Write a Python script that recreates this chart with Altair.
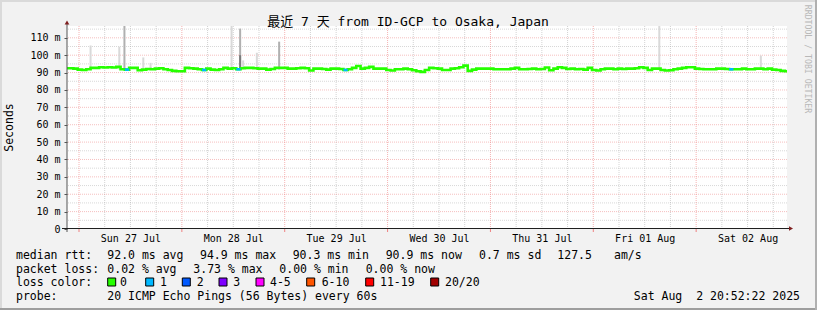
import json
import altair as alt
import pandas as pd

# ------------------------------------------------------------------ data
TITLE = "最近 7 天 from ID-GCP to Osaka, Japan"
Y_TITLE = "Seconds"
WATERMARK = "RRDTOOL / TOBI OETIKER"

DAY_LABELS = ["Sun 27 Jul", "Mon 28 Jul", "Tue 29 Jul", "Wed 30 Jul",
              "Thu 31 Jul", "Fri 01 Aug", "Sat 02 Aug"]
DAY_NOON_H = [12, 36, 60, 84, 108, 132, 156]      # hours since Sun 27 Jul 00:00
FIRST_SAMPLE_H = -2.8                              # first hourly sample
Y_TICKS_MS = [0, 10, 20, 30, 40, 50, 60, 70, 80, 90, 100, 110]

# hourly median RTT (ms)
MEDIAN_MS = [
    92.5, 92.5, 92.3, 91.7, 91.5, 91.9, 92.7, 92.7, 93.1, 92.9,
    93.1, 92.9, 93.3, 91.9, 91.7, 92.7, 92.7, 91.3, 91.7, 92.1,
    91.9, 92.3, 92.5, 91.9, 91.5, 91.0, 90.8, 90.8, 92.7, 92.5,
    92.3, 91.9, 91.5, 92.3, 91.7, 91.5, 91.9, 92.7, 92.3, 92.5,
    91.9, 92.5,
    92.7, 92.7, 92.5, 92.3, 92.3, 91.7, 92.1, 92.7, 92.7, 92.7,
    92.3, 92.3, 92.5, 92.7, 92.5, 91.2, 92.3, 92.3, 92.1, 91.7,
    92.3, 92.3, 92.1, 91.5, 91.9, 92.7, 93.8, 92.3, 92.7, 93.3,
    92.3, 92.3, 92.3, 91.5, 91.2, 91.9, 91.9, 92.3, 91.9, 91.3,
    90.8, 90.4,
    91.5, 92.7, 92.5, 92.3, 91.5, 91.5, 92.3, 92.5, 93.1, 94.0,
    91.0, 91.7, 92.3, 92.3, 92.3, 92.3, 91.9, 91.9, 91.9, 91.9,
    92.3, 92.7, 91.9, 91.9, 92.1, 92.3, 91.9, 92.1, 92.9, 91.3,
    92.3, 93.1, 92.7, 92.1, 92.3, 91.9, 92.1, 91.7, 92.7, 91.5,
    91.2, 91.9,
    92.3, 92.3, 91.9, 92.3, 92.1, 92.3, 92.3, 92.5, 93.1, 92.7,
    91.5, 92.3, 92.3, 91.5, 91.2, 91.3, 91.9, 92.3, 92.7, 93.1,
    93.1, 92.3, 92.1, 91.9, 91.9, 91.9, 92.3, 92.3, 92.1, 91.9,
    91.9, 91.9, 92.3, 91.9, 91.9, 92.3, 92.3, 91.9, 92.3, 91.7,
    91.5, 91.0, 90.8,
]
LOSS_SAMPLE_INDEX = [14, 32, 40, 65, 155]           # samples with 1 lost ping

# smoke spikes (hours since Sun 27 Jul 00:00, low/high ms, shade)
SMOKE_H = [2.7, 9.4, 10.6, 15.0, 16.7, 35.6, 37.6, 38.3, 41.5, 46.7, 135.4, 159.1]
SMOKE_LOW_MS = [91.8, 91.8, 91.8, 91.8, 91.8, 91.8, 91.8, 91.8, 91.8, 91.8, 91.8, 91.8]
SMOKE_HIGH_MS = [105.6, 104.9, 118.0, 98.7, 95.6, 118.0, 115.3, 97.0, 101.4, 107.8, 118.0, 99.8]
SMOKE_LEVEL = ["light", "light", "mid", "light", "light", "light", "mid",
               "light", "light", "mid", "light", "light"]
SMOKE_CORE_H = [37.6]
SMOKE_CORE_LOW_MS = [91.8]
SMOKE_CORE_HIGH_MS = [100.0]

STATS_RTT = ["median rtt:", "92.0 ms avg", "94.9 ms max", "90.3 ms min",
             "90.9 ms now", "0.7 ms sd", "127.5", "am/s"]
STATS_LOSS = ["packet loss:", "0.02 % avg", "3.73 % max", "0.00 % min", "0.00 % now"]
LOSS_HEAD = "loss color:"
LOSS_LABELS = ["0", "1", "2", "3", "4-5", "6-10", "11-19", "20/20"]
PROBE = ["probe:", "20 ICMP Echo Pings (56 Bytes) every 60s"]
STAMP = "Sat Aug  2 20:52:22 2025"

# ------------------------------------------------------------------ style / layout
MONO = "DejaVu Sans Mono"
TITLE_FONT = "DejaVu Sans Mono, Noto Sans CJK SC"
LOSS_COLORS = ["#26ff00", "#00b8ff", "#0059ff", "#7e00ff",
               "#ff00ff", "#ff5500", "#ff0000", "#a10000"]
SMOKE_DOMAIN = ["light", "mid"]
SMOKE_RANGE = ["#d9d9d9", "#b0b0b0"]
MGRID = "#ee8080"
GRID = "#a8a8a8"
ARROW = "#7f1f1f"
AXIS = "#1f1f1f"

W, H = 720, 203
LEFT, TOP = 67, 26
XMIN, XMAX = -2.8, 165.2
YMAX = 116.8

RTT_X = [16, 107.3, 200, 292.7, 385.7, 479, 557.3, 614]
LOSS_X = [16, 107.3, 193.3, 279.3, 365.7]
BOX_X = [107.7, 145.7, 182.3, 219, 256, 306.7, 365.7, 430.7]
BOX_LABEL_X = [120, 160, 196.7, 233.3, 270, 321.7, 380, 445]
ROW_BASE = [258.5, 272.5, 286, 300]

NB = "\u00a0"
xs = alt.Scale(domain=[XMIN, XMAX], nice=False, zero=False)
ys = alt.Scale(domain=[0, YMAX], nice=False, zero=False)
labels_js = json.dumps(DAY_LABELS)
values_js = json.dumps(DAY_NOON_H)
X_AXIS = alt.Axis(
    values=DAY_NOON_H, labelExpr=f"{labels_js}[indexof({values_js}, datum.value)]",
    title=None, grid=False, ticks=False, domain=False, labelFont=MONO,
    labelFontSize=10, labelColor="#000000", labelBaseline="alphabetic",
    labelPadding=12, labelFlush=False, labelOverlap=False)
Y_AXIS = alt.Axis(
    values=Y_TICKS_MS,
    labelExpr="datum.value == 0 ? '0" + NB + NB + "' : datum.value + ' m'",
    title=None, grid=False, domain=False, tickSize=3, tickColor="#555555",
    labelPadding=4, labelFont=MONO, labelFontSize=10, labelColor="#000000",
    labelFlush=False, labelOverlap=False)


def X(field):
    return alt.X(field, scale=xs, axis=X_AXIS)


def Y(field):
    return alt.Y(field, scale=ys, axis=Y_AXIS)


def txt(s):
    return s.replace("  ", " " + NB)


def label(text, px, py, size=11.5, align="left", baseline="alphabetic",
          angle=0, color="#000000", font=MONO):
    return alt.Chart(pd.DataFrame({"t": [txt(text)]})).mark_text(
        align=align, baseline=baseline, angle=angle, fontSize=size,
        font=font, color=color
    ).encode(text="t:N", x=alt.value(px - LEFT), y=alt.value(py - TOP))


def rect(x0, y0, x1, y1, fill, stroke=None):
    kw = {"fill": fill}
    if stroke:
        kw.update(stroke=stroke, strokeWidth=1)
    else:
        kw.update(strokeWidth=0)
    return alt.Chart(pd.DataFrame({"k": [0]})).mark_rect(**kw).encode(
        x=alt.value(x0 - LEFT), x2=alt.value(x1 - LEFT),
        y=alt.value(y0 - TOP), y2=alt.value(y1 - TOP))


# ------------------------------------------------------------------ grid
v_major = [0, 24, 48, 72, 96, 120, 144]
v_minor = [h for h in range(6, 166, 6) if h % 24 != 0]
h_major = [10, 20, 30, 40, 50, 60, 70, 80, 90, 100, 110]
h_minor = [5, 15, 25, 35, 45, 55, 65, 75, 85, 95, 105, 115]

vminor = alt.Chart(pd.DataFrame({"h": v_minor})).mark_rule(
    color=GRID, strokeDash=[1, 1], strokeWidth=1, opacity=0.5
).encode(x=X("h:Q"))
hminor = alt.Chart(pd.DataFrame({"v": h_minor})).mark_rule(
    color=GRID, strokeDash=[1, 1], strokeWidth=1, opacity=0.45
).encode(y=Y("v:Q"))
vmajor = alt.Chart(pd.DataFrame({"h": v_major})).mark_rule(
    color=MGRID, strokeDash=[1, 1], strokeWidth=1, opacity=0.6
).encode(x=X("h:Q"))
hmajor = alt.Chart(pd.DataFrame({"v": h_major})).mark_rule(
    color=MGRID, strokeDash=[1, 1], strokeWidth=1, opacity=0.5
).encode(y=Y("v:Q"))
vticks = alt.Chart(pd.DataFrame({"h": v_major})).mark_rule(
    color=MGRID, strokeWidth=1
).encode(x=X("h:Q"), y=alt.value(H), y2=alt.value(H + 3))

# ------------------------------------------------------------------ smoke
smoke_df = pd.DataFrame({"h": SMOKE_H, "lo": SMOKE_LOW_MS,
                         "hi": SMOKE_HIGH_MS, "lvl": SMOKE_LEVEL})
smoke = alt.Chart(smoke_df).mark_rule(strokeWidth=2, clip=True).encode(
    x=X("h:Q"), y=Y("lo:Q"), y2="hi:Q",
    color=alt.Color("lvl:N", scale=alt.Scale(domain=SMOKE_DOMAIN, range=SMOKE_RANGE),
                    legend=None))
core_df = pd.DataFrame({"h": SMOKE_CORE_H, "lo": SMOKE_CORE_LOW_MS, "hi": SMOKE_CORE_HIGH_MS})
core = alt.Chart(core_df).mark_rule(strokeWidth=2, color="#7a7a7a", clip=True).encode(
    x=X("h:Q"), y=Y("lo:Q"), y2="hi:Q")

# ------------------------------------------------------------------ median line
med_df = pd.DataFrame({"h": [FIRST_SAMPLE_H + i for i in range(len(MEDIAN_MS))],
                       "ms": MEDIAN_MS})
line = alt.Chart(med_df).mark_line(
    color=LOSS_COLORS[0], strokeWidth=2.6, interpolate="step", clip=True
).encode(x=X("h:Q"), y=Y("ms:Q"))

loss_df = pd.DataFrame({"h0": [FIRST_SAMPLE_H + i - 0.5 for i in LOSS_SAMPLE_INDEX],
                        "h1": [FIRST_SAMPLE_H + i + 0.5 for i in LOSS_SAMPLE_INDEX],
                        "ms": [MEDIAN_MS[i] for i in LOSS_SAMPLE_INDEX]})
loss = alt.Chart(loss_df).mark_rule(color=LOSS_COLORS[1], strokeWidth=2.6).encode(
    x=X("h0:Q"), x2="h1:Q", y=Y("ms:Q"))

# ------------------------------------------------------------------ axes lines & arrows
yaxis = alt.Chart(pd.DataFrame({"k": [0]})).mark_rule(color="#555555", strokeWidth=1).encode(
    x=alt.value(0), y=alt.value(-3), y2=alt.value(H + 3))
xaxis = alt.Chart(pd.DataFrame({"k": [0]})).mark_rule(color=AXIS, strokeWidth=1).encode(
    x=alt.value(-5), x2=alt.value(W + 2), y=alt.value(H - 0.5))
up = alt.Chart(pd.DataFrame({"k": [0]})).mark_point(
    shape="triangle-up", filled=True, size=22, color=ARROW, opacity=1).encode(
    x=alt.value(0), y=alt.value(-3.5))
right = alt.Chart(pd.DataFrame({"k": [0]})).mark_point(
    shape="triangle-right", filled=True, size=22, color=ARROW, opacity=1).encode(
    x=alt.value(W + 4), y=alt.value(H - 0.5))

# ------------------------------------------------------------------ texts
texts = [
    label(TITLE, 408, 26, size=13, align="center", font=TITLE_FONT),
    label(Y_TITLE, 10, 127.5, size=11.5, align="center", baseline="middle", angle=270),
    label(WATERMARK, 806.5, 59, size=8.2, align="center", baseline="middle",
          angle=90, color="#b8b8b8"),
]
for s, px in zip(STATS_RTT, RTT_X):
    texts.append(label(s, px, ROW_BASE[0]))
for s, px in zip(STATS_LOSS, LOSS_X):
    texts.append(label(s, px, ROW_BASE[1]))
texts.append(label(LOSS_HEAD, 16, ROW_BASE[2]))
for s, px in zip(LOSS_LABELS, BOX_LABEL_X):
    texts.append(label(s, px, ROW_BASE[2]))
texts.append(label(PROBE[0], 16, ROW_BASE[3]))
texts.append(label(PROBE[1], 107.3, ROW_BASE[3]))
texts.append(label(STAMP, 800, ROW_BASE[3], align="right"))

boxes = [rect(bx, 278, bx + 8, 286, c, stroke="#000000") for bx, c in zip(BOX_X, LOSS_COLORS)]

frame = [
    rect(0, 0, 817, 2, "#dadada"),
    rect(0, 0, 2, 310, "#dadada"),
    rect(0, 308, 817, 310, "#9e9e9e"),
    rect(815, 0, 817, 310, "#b0b0b0"),
]

chart = alt.layer(
    vminor, hminor, vmajor, hmajor, vticks, smoke, core, line, loss,
    yaxis, xaxis, up, right, *texts, *boxes, *frame
).properties(
    width=W, height=H,
    padding={"left": LEFT, "top": TOP, "right": 817 - LEFT - W, "bottom": 310 - TOP - H},
    autosize=alt.AutoSizeParams(type="none"),
    background="#f2f2f2",
).configure_view(stroke=None, fill="#ffffff")

chart.save("out.html", embed_options={"renderer": "svg", "actions": False})
